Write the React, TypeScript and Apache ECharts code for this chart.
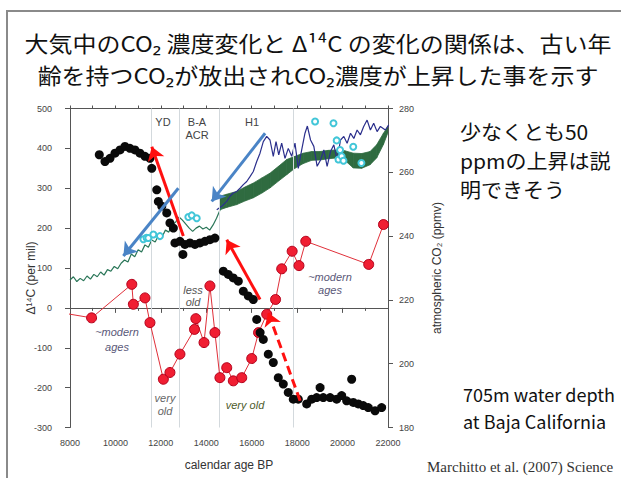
import React, { useEffect, useRef } from "react";
import * as echarts from "echarts";

// ---- data ----
const blackAge = [9290, 9540, 9760, 9980, 10200, 10420, 10640, 10860, 11080, 11300, 11520, 11600, 11820, 11890, 12040, 12260, 12400, 12550, 12620, 12840, 12970, 13060, 13280, 13500, 13720, 13940, 14160, 14380, 14750, 14970, 15190, 15410, 15630, 15850, 16070, 16220, 16370, 16510, 16730, 16950, 17170, 17390, 17610, 17830, 18050, 18420, 18640, 18860, 19010, 19150, 19450, 19740, 19960, 20180, 20400, 20470, 20690, 20910, 21130, 21430, 21720];
const blackD14C = [384, 367, 375, 388, 396, 405, 400, 396, 388, 380, 375, 350, 296, 267, 255, 238, 213, 200, 163, 167, 134, 159, 163, 159, 163, 167, 171, 175, 92, 84, 75, 67, 42, 30, 21, -29, -62, -79, -116, -137, -175, -191, -212, -229, -229, -241, -229, -225, -200, -225, -225, -229, -220, -233, -179, -237, -241, -245, -250, -258, -250];

const redAge = [7700, 8950, 10720, 10790, 11300, 11520, 12110, 12400, 12840, 13480, 13540, 13900, 14160, 14380, 14600, 14900, 15190, 15560, 16000, 16300, 16660, 17050, 17320, 17780, 18080, 18380, 21150, 21800];
const redD14C = [-13, -25, 59, 9, 25, -37, -179, -162, -116, -54, -27, -87, 55, -62, -175, -150, -183, -175, -127, -62, -16, 21, 98, 142, 106, 167, 109, 209];

const intcalAge = [8000, 8150, 8300, 8450, 8600, 8750, 8900, 9050, 9200, 9350, 9500, 9650, 9800, 9950, 10100, 10250, 10400, 10550, 10700, 10850, 11000, 11150, 11300, 11450, 11600, 11750, 11900, 12050, 12200, 12350, 12500, 12650, 12800, 12950, 13100, 13250, 13400, 13550, 13700, 13850, 14000, 14150, 14300, 14450, 14600, 14750];
const intcalD14C = [70, 78, 66, 74, 68, 80, 72, 84, 78, 90, 82, 96, 92, 104, 98, 112, 120, 115, 135, 128, 146, 140, 158, 152, 170, 165, 182, 178, 195, 190, 208, 215, 228, 220, 210, 200, 192, 200, 205, 198, 202, 195, 208, 225, 245, 262];

const cariacoAge = [14460, 14680, 14900, 15045, 15190, 15340, 15485, 15630, 15780, 15925, 16070, 16220, 16365, 16510, 16660, 16805, 16950, 17070, 17190, 17320, 17465, 17610, 17760, 17905, 18050, 18200, 18345, 18450, 18590, 18735, 18880, 19030, 19175, 19320, 19470, 19615, 19760, 19910, 20055, 20200, 20350, 20495, 20640, 20785, 20930, 21080, 21225, 21370, 21520, 21665, 21885, 22030];
const cariacoD14C = [246, 255, 267, 280, 288, 292, 300, 309, 317, 329, 342, 367, 388, 417, 430, 421, 380, 417, 384, 413, 375, 400, 380, 413, 350, 396, 438, 456, 421, 405, 355, 371, 396, 355, 392, 409, 371, 421, 430, 413, 438, 425, 446, 434, 455, 471, 446, 463, 442, 455, 446, 459];

const bandAge = [14600, 14900, 15340, 15700, 16070, 16450, 16810, 17180, 17540, 17900, 18270, 18640, 19010, 19370, 19740, 20100, 20470, 20840, 21210, 21500, 21800, 22000];
const bandLow = [246, 252, 259, 268, 276, 288, 301, 318, 334, 350, 362, 370, 371, 374, 376, 370, 351, 350, 359, 376, 410, 440];
const bandHigh = [280, 285, 292, 303, 313, 326, 338, 355, 372, 380, 388, 392, 392, 395, 396, 394, 388, 387, 392, 409, 438, 455];

const co2Age = [11230, 11370, 11450, 11670, 11960, 13210, 13360, 13580, 18790, 19600, 19740, 19820, 19890, 19960, 20040, 20470, 20830];
const co2Ppm = [239, 239.5, 239.4, 240.5, 240, 246, 246.5, 245.6, 275.9, 275.4, 270, 264, 267, 265, 263.6, 268, 262.9];

const zoneBounds = [11570, 12800, 14560, 17810];

// arrows: [fromAge, fromD14C, toAge, toD14C]
const redArrows = [[12990, 180, 11600, 404], [16366, 21, 14900, 171]];
const dashedArrow = [18130, -233, 16730, -12];
const blueArrows = [[12770, 300, 10350, 130], [16590, 438, 14240, 267]];

const zip = (a: number[], b: number[]) => a.map((v, i) => [v, b[i]]);

const JP = "'Noto Sans CJK JP', 'Noto Sans', sans-serif";
const AX = "'Liberation Sans', Arial, sans-serif";

function arrowLine(a: number[], color: string, type: any) {
  return [
    { coord: [a[0], a[1]], lineStyle: { color, width: 3, type } },
    { coord: [a[2], a[3]] },
  ];
}

function txt(text: string, x: number, y: number, font: string, fill: string, align = "center", lineHeight?: number, scaleX = 1) {
  const style: any = { text, font, fill, align, verticalAlign: "middle" };
  if (lineHeight) style.lineHeight = lineHeight;
  return { type: "text", x, y, scaleX, z: 20, style };
}

const plain = (v: number) => String(v);

export default function App() {
  const ref = useRef<HTMLDivElement>(null);
  useEffect(() => {
    const chart = echarts.init(ref.current!, null, { renderer: "svg" });
    const option: any = {
      animation: false,
      backgroundColor: "#ffffff",
      grid: { left: 70, right: 233, top: 108.5, bottom: 50.5, containLabel: false },
      xAxis: [
        {
          type: "value", min: 8000, max: 22000, interval: 2000, position: "bottom",
          axisLine: { lineStyle: { color: "#555", width: 1 } },
          axisTick: { show: true, length: 5, lineStyle: { color: "#555" } },
          minorTick: { show: true, splitNumber: 2, length: 3, lineStyle: { color: "#555" } },
          splitLine: { show: false },
          axisLabel: { fontSize: 9, color: "#444", fontFamily: AX, margin: 11, formatter: plain },
        },
        {
          type: "value", min: 8000, max: 22000, interval: 1000, position: "top",
          axisLine: { lineStyle: { color: "#555", width: 1 } },
          axisTick: { show: true, length: 3, lineStyle: { color: "#555" } },
          axisLabel: { show: false },
          splitLine: { show: false },
        },
      ],
      yAxis: [
        {
          type: "value", min: -300, max: 500, interval: 100, position: "left",
          axisLine: { show: true, lineStyle: { color: "#555", width: 1 } },
          axisTick: { show: true, length: 5, lineStyle: { color: "#555" } },
          splitLine: { show: false },
          axisLabel: { fontSize: 9, color: "#444", fontFamily: AX, margin: 18, formatter: plain },
        },
        {
          type: "value", min: 180, max: 280, interval: 20, position: "right",
          axisLine: { show: true, lineStyle: { color: "#555", width: 1 } },
          axisTick: { show: true, length: 5, lineStyle: { color: "#555" } },
          splitLine: { show: false },
          axisLabel: { fontSize: 9, color: "#444", fontFamily: AX, margin: 11, formatter: plain },
        },
      ],
      series: [
        {
          type: "custom", name: "intcalBand", z: 3, clip: true,
          data: bandAge.map((a, i) => [a, bandLow[i], bandHigh[i]]),
          encode: { x: 0, y: [1, 2] },
          renderItem: (params: any, api: any) => {
            const i = params.dataIndex;
            if (i >= bandAge.length - 1) return null;
            const pts = [
              api.coord([bandAge[i], bandLow[i]]),
              api.coord([bandAge[i + 1], bandLow[i + 1]]),
              api.coord([bandAge[i + 1], bandHigh[i + 1]]),
              api.coord([bandAge[i], bandHigh[i]]),
            ];
            return {
              type: "polygon",
              shape: { points: pts },
              style: { fill: "#2f6b40", stroke: "#2f6b40", lineWidth: 0.8 },
            };
          },
          markLine: {
            silent: true, symbol: ["none", "none"], label: { show: false },
            lineStyle: { color: "#d3d9dd", width: 1, type: "solid" },
            data: zoneBounds.map((v) => ({ xAxis: v })),
          },
        },
        {
          type: "line", name: "intcal", data: zip(intcalAge, intcalD14C), symbol: "none",
          lineStyle: { color: "#2a7658", width: 1.2 }, z: 4,
        },
        {
          type: "line", name: "cariaco", data: zip(cariacoAge, cariacoD14C), symbol: "none",
          lineStyle: { color: "#2b2f8c", width: 1.2 }, z: 4,
        },
        {
          type: "scatter", name: "co2", yAxisIndex: 1, data: zip(co2Age, co2Ppm),
          symbol: "emptyCircle", symbolSize: 6,
          itemStyle: { color: "#42c6d8", borderColor: "#42c6d8", borderWidth: 1.2, opacity: 1 }, z: 5,
        },
        {
          type: "line", name: "benthic", data: zip(redAge, redD14C),
          symbol: "circle", symbolSize: 10,
          lineStyle: { color: "#e0303a", width: 1 },
          itemStyle: { color: "#f01e32", borderColor: "#b3001a", borderWidth: 1, opacity: 1 }, z: 6,
        },
        {
          type: "scatter", name: "black", data: zip(blackAge, blackD14C),
          symbolSize: 9, itemStyle: { color: "#0a0a0a", opacity: 1 }, z: 7,
          markLine: {
            silent: true, symbol: ["none", "arrow"], symbolSize: 13, label: { show: false },
            z: 10,
            data: [
              ...redArrows.map((a) => arrowLine(a, "#ff1010", "solid")),
              arrowLine(dashedArrow, "#ff1010", [9, 5]),
              ...blueArrows.map((a) => arrowLine(a, "#4a84c6", "solid")),
            ],
          },
        },
      ],
      graphic: [
        { type: "rect", z: 0, shape: { x: 7, y: 11, width: 700, height: 600 }, style: { fill: "none", stroke: "#8a8a8a", lineWidth: 2 } },
        txt("大気中のCO₂ 濃度変化と Δ¹⁴C の変化の関係は、古い年\n齢を持つCO₂が放出されCO₂濃度が上昇した事を示す", 318, 58, `22px ${JP}`, "#111", "center", 32, 1.09),
        txt("少なくとも50\nppmの上昇は説\n明できそう", 460, 160, `20px ${JP}`, "#111", "left", 29, 1.05),
        txt("705m water depth\nat Baja California", 463, 407.5, `18px ${JP}`, "#111", "left", 27),
        txt("Marchitto et al. (2007) Science", 427, 467, `15px 'Liberation Serif', serif`, "#333", "left"),
        txt("calendar age BP", 229, 465, `12px ${AX}`, "#333"),
        { type: "text", x: 31, y: 278, rotation: Math.PI / 2, z: 20, style: { text: "Δ¹⁴C (per mil)", font: `12px ${AX}`, fill: "#333", align: "center", verticalAlign: "middle" } },
        { type: "text", x: 437, y: 268, rotation: Math.PI / 2, z: 20, style: { text: "atmospheric CO₂ (ppmv)", font: `12px ${AX}`, fill: "#333", align: "center", verticalAlign: "middle" } },
        txt("YD", 163, 122, `11px ${AX}`, "#444"),
        txt("B-A\nACR", 197, 128.5, `11px ${AX}`, "#444", "center", 13),
        txt("H1", 252, 122, `11px ${AX}`, "#444"),
        txt("~modern\nages", 117, 339.5, `italic 11px ${AX}`, "#5a5878", "center", 15),
        txt("very\nold", 165, 404.5, `italic 11px ${AX}`, "#666", "center", 13),
        txt("less\nold", 193, 296, `italic 11px ${AX}`, "#555", "center", 12),
        txt("very old", 245, 405, `italic 11px ${AX}`, "#4d5a2a"),
        txt("~modern\nages", 330, 283.5, `italic 11px ${AX}`, "#5a5878", "center", 13),
      ],
    };
    chart.setOption(option);
    return () => chart.dispose();
  }, []);
  return (
    <div
      ref={ref}
      style={{ position: "fixed", left: 0, top: 0, width: 621, height: 478, background: "#fff" }}
    />
  );
}
